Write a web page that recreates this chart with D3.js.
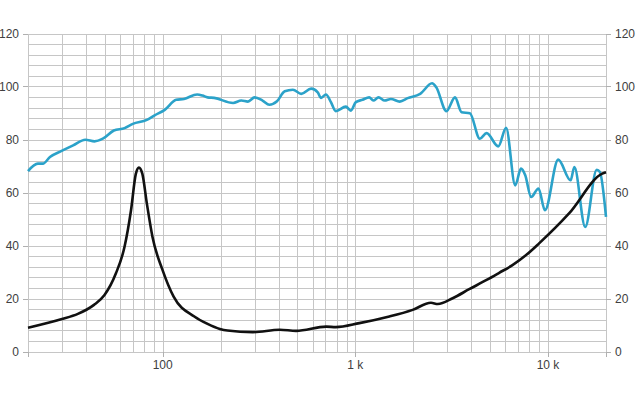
<!DOCTYPE html>
<html><head><meta charset="utf-8">
<script src="https://cdn.jsdelivr.net/npm/d3@7"></script>
<style>
html,body{margin:0;padding:0;background:#fff;}
svg{display:block;font-family:"Liberation Sans",Arial,sans-serif;}
</style></head>
<body>
<svg id="c" width="640" height="400"></svg>
<script>
// SPL response (Hz, dB)
const splFreq = [20,22.5,23.9,26,29.7,34.3,39.7,44.3,48.9,55.8,63.4,70,82.8,90.8,102.5,117.6,129,151,161,171,185,232,256,277,300,330,358,392,430,474,524,590,638,664,704,747,792,893,948,1006,1090,1180,1240,1320,1420,1530,1700,1870,2170,2500,2630,2970,3290,3560,3930,4430,4800,5520,6060,6760,7240,7620,8170,8930,9640,11300,13100,13700,15600,17900,18600,20000];
const splDb   = [68.1,70.9,70.9,73.4,75.6,77.8,79.9,79.3,80.3,83.4,84.3,85.9,87.4,89.1,91.2,95.0,95.3,97.0,96.6,95.9,95.7,93.8,94.7,94.3,95.9,94.7,93.1,94.4,98.2,98.8,97.2,99.2,97.8,95.7,97.0,94.1,90.7,92.4,90.9,94.1,95.0,95.9,94.7,95.9,94.7,95.3,94.3,95.6,97.2,101.2,99.7,90.7,95.9,90.3,89.9,80.3,82.4,77.4,84.4,62.7,69.0,66.5,58.3,61.5,53.3,72.4,64.6,69.6,47.0,68.6,67.7,50.8];
// Impedance (Hz, ohm)
const impFreq = [20,29.7,36.3,44,49.9,57.2,63.4,68.5,72.6,75.3,78.4,82.8,88.5,99.9,114,146,171,198,217,294,405,493,706,792,1050,1502,1983,2470,2680,3200,3900,4800,5580,6540,7700,8990,12860,19130,20000];
const impOhm  = [9.0,12.2,14.2,17.6,21.3,29.5,39.5,53.3,67.1,69.4,67.1,55.8,43.3,30.7,20.7,13.2,10.4,8.5,7.9,7.3,8.2,7.8,9.4,9.2,10.7,13.2,15.7,18.4,17.9,20.1,23.5,27.0,29.7,32.6,36.4,40.8,52.1,67.1,67.6];
const yTicks = [0,20,40,60,80,100,120];
const xLabels = [{v:100,t:"100"},{v:1000,t:"1 k"},{v:10000,t:"10 k"}];

const svg = d3.select("#c");
const L = 28, R = 606, T = 33.5, B = 351.5;
const x = d3.scaleLog().domain([20,20000]).range([L,R]);
const y = d3.scaleLinear().domain([0,120]).range([B,T]);

const grid = svg.append("g").attr("stroke","#c6c6c6").attr("stroke-width",1).attr("shape-rendering","crispEdges");
const vgrid = [];
[10,100,1000,10000].forEach(d=>{for(let k=1;k<=9;k++){const v=d*k; if(v>=20&&v<=20000) vgrid.push(v);}});
vgrid.push(20000);
grid.selectAll("line.v").data(vgrid).join("line")
  .attr("x1",d=>Math.round(x(d))+0.5).attr("x2",d=>Math.round(x(d))+0.5)
  .attr("y1",T).attr("y2",B);
grid.selectAll("line.h").data(d3.range(0,121,4)).join("line")
  .attr("x1",L).attr("x2",R)
  .attr("y1",d=>Math.round(y(d))+0.5).attr("y2",d=>Math.round(y(d))+0.5);

const tk = svg.append("g").attr("stroke","#b0b0b0").attr("stroke-width",1).attr("shape-rendering","crispEdges");
tk.selectAll("line.l").data(yTicks).join("line")
  .attr("x1",L-5).attr("x2",L).attr("y1",d=>Math.round(y(d))+0.5).attr("y2",d=>Math.round(y(d))+0.5);
tk.selectAll("line.r").data(yTicks).join("line")
  .attr("x1",R).attr("x2",R+5).attr("y1",d=>Math.round(y(d))+0.5).attr("y2",d=>Math.round(y(d))+0.5);
tk.selectAll("line.b").data([20,100,1000,10000,20000]).join("line")
  .attr("x1",d=>Math.round(x(d))+0.5).attr("x2",d=>Math.round(x(d))+0.5).attr("y1",B).attr("y2",B+5);

const lab = svg.append("g").attr("fill","#404040").attr("font-size",12);
lab.selectAll("text.l").data(yTicks).join("text")
  .attr("x",19).attr("y",d=>y(d)+4).attr("text-anchor","end").text(d=>d);
lab.selectAll("text.r").data(yTicks).join("text")
  .attr("x",615).attr("y",d=>y(d)+4).attr("text-anchor","start").text(d=>d);
lab.selectAll("text.b").data(xLabels).join("text")
  .attr("x",d=>x(d.v)).attr("y",369).attr("text-anchor","middle").text(d=>d.t);

const line = d3.line().curve(d3.curveMonotoneX);
svg.append("path")
  .attr("d", line(splFreq.map((f,i)=>[x(f),y(splDb[i])])))
  .attr("fill","none").attr("stroke","#2ba2c9").attr("stroke-width",2.6).attr("stroke-linejoin","round");
svg.append("path")
  .attr("d", line(impFreq.map((f,i)=>[x(f),y(impOhm[i])])))
  .attr("fill","none").attr("stroke","#111").attr("stroke-width",2.6).attr("stroke-linejoin","round");
</script>
</body></html>
